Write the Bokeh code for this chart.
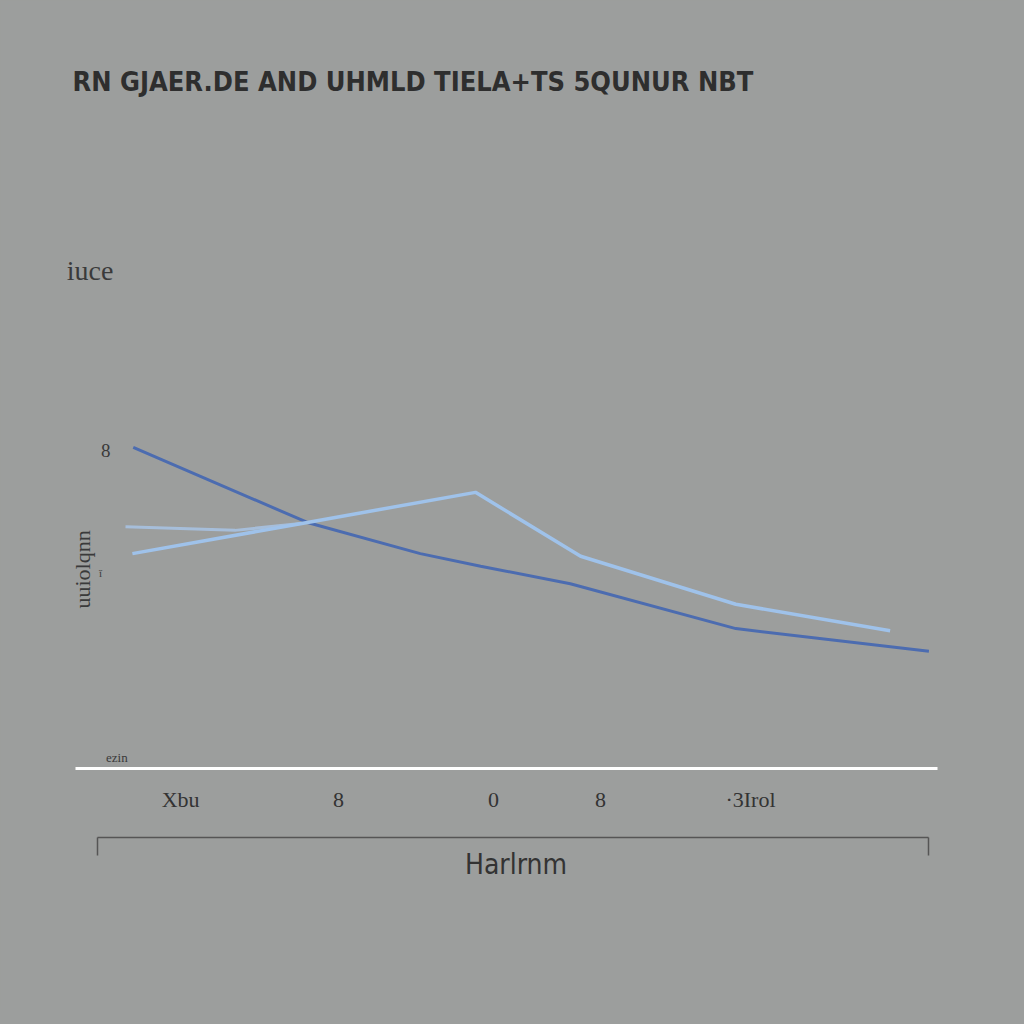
from bokeh.plotting import figure
from bokeh.models import ColumnDataSource, LinearAxis, FixedTicker, Range1d, Label, LabelSet
from bokeh.embed import file_html
from bokeh.resources import INLINE

# ---- data ----
title_text = "RN GJAER.DE AND UHMLD TIELA+TS 5QUNUR NBT"
x_title = "Harlrnm"
y_title = "uuiolqnn"

x_dark = [6.7, 26.9, 40.0, 47.0, 57.4, 76.6, 99.0]
y_dark = [60.8, 46.6, 40.7, 38.3, 35.0, 26.5, 22.2]

x_light = [6.6, 26.9, 46.4, 58.6, 76.6, 94.5]
y_light = [40.7, 46.6, 52.3, 40.2, 31.1, 26.1]

x_faint = [5.8, 18.5, 26.1]
y_faint = [45.8, 45.1, 46.4]

x_tick_pos = [12.2, 30.5, 48.5, 60.9, 78.3]
x_tick_labels = ["Xbu", "8", "0", "8", "\u00b73Irol"]

y_label_pos = [94.3, 60.2, 37.0, 2.0]
y_label_text = ["iuce", "8", "\u01d0", "ezin"]

BG = "#9c9e9d"
DARK = "#4c6cb0"
LIGHT = "#9fc2ea"
TXT = "#333333"

p = figure(width=1008, height=1008, output_backend="svg", toolbar_location=None,
           x_range=Range1d(-1.74, 103.94), y_range=Range1d(0, 125),
           min_border_left=60, min_border_right=37, min_border_top=108,
           min_border_bottom=240)
p.background_fill_alpha = 0
p.border_fill_color = BG
p.outline_line_color = None
p.grid.visible = False
p.yaxis.visible = False

# title
p.title.text = title_text
p.title.text_font = "DejaVu Sans Condensed"
p.title.text_font_size = "27px"
p.title.text_font_style = "bold"
p.title.text_color = "#2e2e2e"
p.title.align = "left"
p.title.offset = 12
p.title.standoff = 24

# main x axis (white line)
xa = p.xaxis[0]
xa.ticker = FixedTicker(ticks=x_tick_pos)
xa.bounds = (0, 100)
xa.major_label_overrides = {t: l for t, l in zip(x_tick_pos, x_tick_labels)}
xa.axis_line_color = "white"
xa.axis_line_width = 3
xa.major_tick_line_color = None
xa.minor_tick_line_color = None
xa.major_tick_out = 0
xa.major_tick_in = 0
xa.major_label_standoff = 18
xa.major_label_text_font = "Liberation Serif"
xa.major_label_text_font_size = "22px"
xa.major_label_text_color = TXT
xa.axis_label = " "
xa.axis_label_text_font_size = "14px"
xa.axis_label_standoff = 4

# bracket axis with x title
bx = LinearAxis(ticker=FixedTicker(ticks=[2.55, 98.96]), bounds=(2.55, 98.96))
bx.major_label_overrides = {2.55: "", 98.96: ""}
bx.major_label_text_font_size = "1px"
bx.major_label_standoff = 0
bx.axis_line_color = "#555555"
bx.axis_line_width = 1.5
bx.major_tick_line_color = "#555555"
bx.major_tick_line_width = 1.5
bx.major_tick_out = 18
bx.major_tick_in = 0
bx.minor_tick_line_color = None
bx.axis_label = x_title
bx.axis_label_text_font = "DejaVu Sans Condensed"
bx.axis_label_text_font_size = "28px"
bx.axis_label_text_font_style = "normal"
bx.axis_label_text_color = TXT
bx.axis_label_standoff = -8
p.add_layout(bx, "below")

# lines
p.line(x_faint, y_faint, line_color="#a9c6ea", line_width=3, line_alpha=0.8)
p.line(x_dark, y_dark, line_color=DARK, line_width=3)
p.line(x_light, y_light, line_color=LIGHT, line_width=3.5)

# y-side labels
ysrc = ColumnDataSource(dict(
    x=[1.7, 3.5, 2.9, 4.8],
    y=y_label_pos,
    text=y_label_text,
    size=["28px", "19px", "11px", "13px"],
))
p.add_layout(LabelSet(x="x", y="y", text="text", source=ysrc,
                      text_font_size="size", text_font="Liberation Serif",
                      text_color="#3a3a3a", text_align="center",
                      text_baseline="middle"))

p.add_layout(Label(x=0.8, y=37.7, text=y_title, angle=1.5708,
                   text_font="Liberation Serif", text_font_size="22px",
                   text_color="#3a3a3a", text_align="center",
                   text_baseline="middle"))

html = file_html(p, INLINE)
html = html.replace("</head>", "<style>html,body{background:#9c9e9d;}</style></head>", 1)
open("out.html", "w").write(html)
